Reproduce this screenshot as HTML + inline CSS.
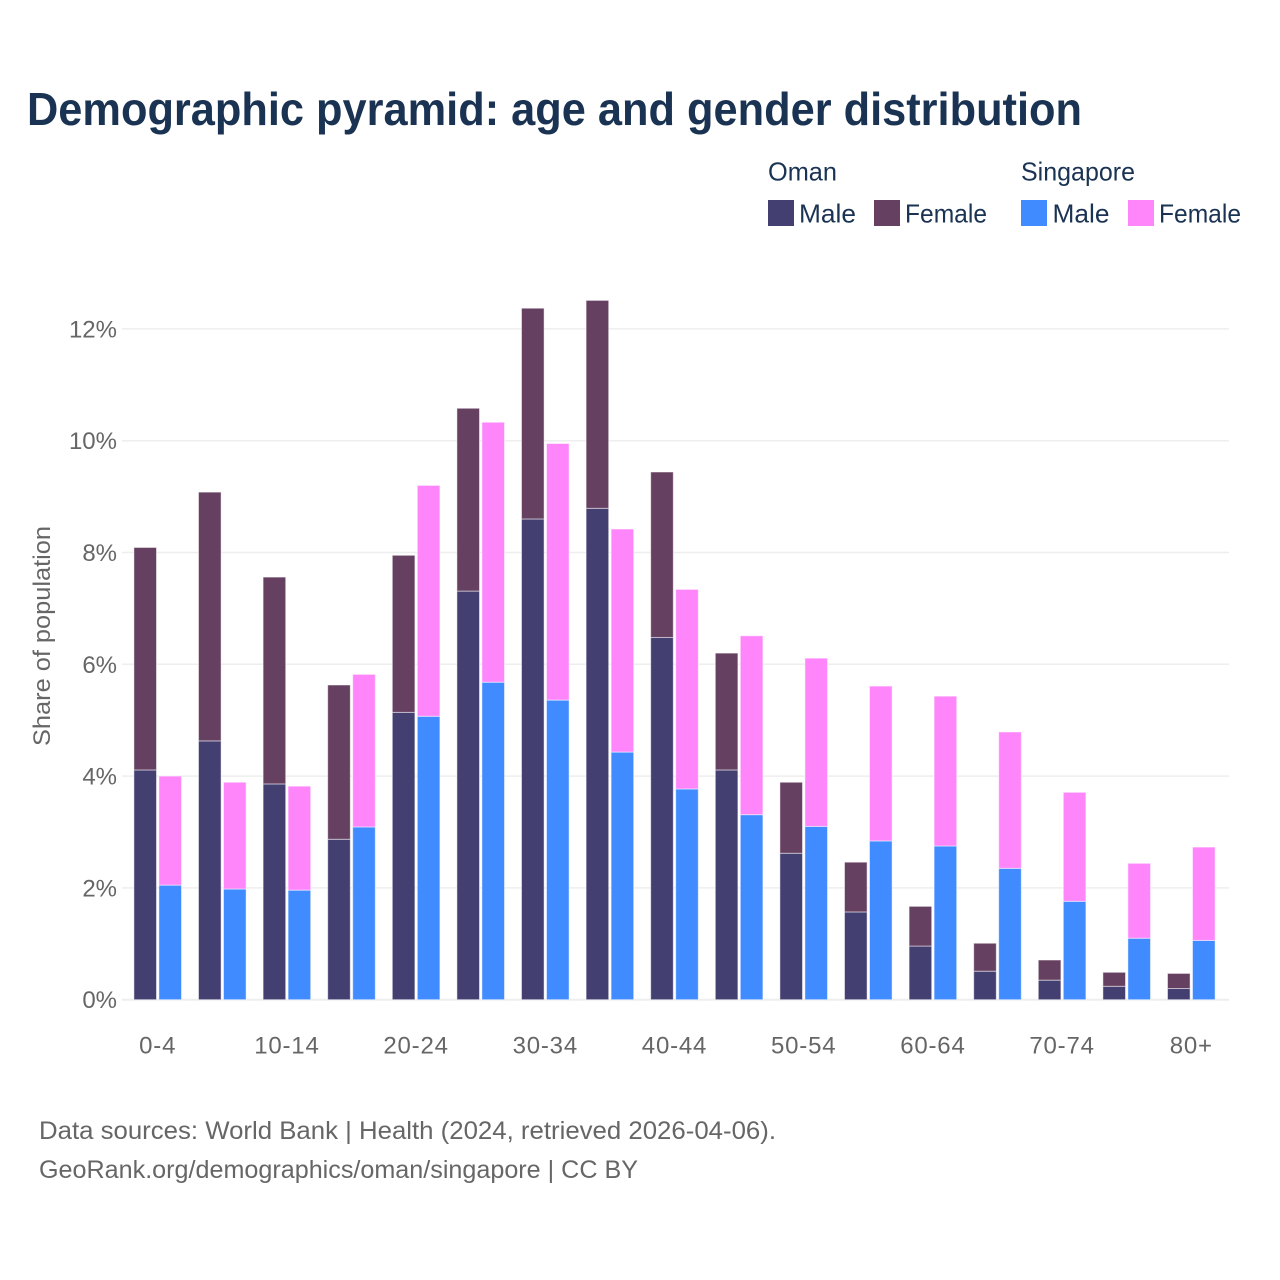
<!DOCTYPE html>
<html lang="en">
<head>
<meta charset="utf-8">
<title>Demographic pyramid</title>
<style>
html,body{margin:0;padding:0;background:#fff;width:1280px;height:1280px;overflow:hidden}
svg{display:block}
text{font-family:"Liberation Sans",sans-serif}
</style>
</head>
<body>
<svg id="chart" width="1280" height="1280" viewBox="0 0 1280 1280" xmlns="http://www.w3.org/2000/svg">
  <rect width="1280" height="1280" fill="#fff"/>
  <text x="27" y="125" font-size="46" font-weight="700" fill="#1a3353" textLength="1055" lengthAdjust="spacingAndGlyphs">Demographic pyramid: age and gender distribution</text>

  <g font-size="26" fill="#1a3353">
    <text x="768" y="180.5" textLength="69" lengthAdjust="spacingAndGlyphs">Oman</text>
    <text x="1021" y="180.5" textLength="114" lengthAdjust="spacingAndGlyphs">Singapore</text>
    <rect x="768" y="200" width="26" height="26" fill="#443f71"/>
    <text x="799" y="222.5" textLength="57" lengthAdjust="spacingAndGlyphs">Male</text>
    <rect x="874" y="200" width="26" height="26" fill="#664060"/>
    <text x="905" y="222.5" textLength="82" lengthAdjust="spacingAndGlyphs">Female</text>
    <rect x="1021" y="200" width="26" height="26" fill="#3f8bff"/>
    <text x="1052.5" y="222.5" textLength="57" lengthAdjust="spacingAndGlyphs">Male</text>
    <rect x="1128" y="200" width="26" height="26" fill="#ff85fb"/>
    <text x="1159" y="222.5" textLength="82" lengthAdjust="spacingAndGlyphs">Female</text>
  </g>

  <g id="grid"></g>
  <g id="yticks"></g>
  <g id="bars"></g>
  <g id="xticks"></g>

  <text transform="translate(50,636) rotate(-90)" text-anchor="middle" font-size="24" fill="#666" textLength="220" lengthAdjust="spacingAndGlyphs">Share of population</text>

  <text x="39" y="1139" font-size="25" fill="#666" textLength="737" lengthAdjust="spacingAndGlyphs">Data sources: World Bank | Health (2024, retrieved 2026-04-06).</text>
  <text x="39" y="1178" font-size="25" fill="#666" textLength="599" lengthAdjust="spacingAndGlyphs">GeoRank.org/demographics/oman/singapore | CC BY</text>
</svg>
<script>
const categories = ['0-4','5-9','10-14','15-19','20-24','25-29','30-34','35-39','40-44','45-49','50-54','55-59','60-64','65-69','70-74','75-79','80+'];
const omanMale = [4.11,4.63,3.86,2.87,5.14,7.31,8.60,8.79,6.48,4.11,2.62,1.57,0.96,0.51,0.35,0.24,0.20];
const omanFemale = [3.98,4.45,3.70,2.76,2.81,3.27,3.77,3.72,2.96,2.09,1.27,0.89,0.71,0.50,0.36,0.25,0.27];
const singaporeMale = [2.05,1.98,1.96,3.09,5.07,5.68,5.36,4.43,3.77,3.31,3.10,2.84,2.75,2.35,1.76,1.10,1.06];
const singaporeFemale = [1.95,1.91,1.86,2.73,4.13,4.65,4.59,3.99,3.57,3.20,3.01,2.77,2.68,2.44,1.95,1.34,1.67];
const yTickValues = [0,2,4,6,8,10,12];

const NS = 'http://www.w3.org/2000/svg';
function yScale(v){ return 999.7 - v * 55.9; }
function xScale(i){ return 157.7 + i * 64.6; }
function make(tag, attrs, parent){
  const el = document.createElementNS(NS, tag);
  for (const k in attrs) el.setAttribute(k, attrs[k]);
  parent.appendChild(el);
  return el;
}

const grid = document.getElementById('grid');
const yticks = document.getElementById('yticks');
yTickValues.forEach(function(v){
  const line = make('line', {x1:122, x2:1229, y1:yScale(v), y2:yScale(v), stroke:'#eeeeee', 'stroke-width': v === 0 ? 2 : 1.5}, grid);
  
  
  const t = make('text', {x:117, y:yScale(v) + 8.5, 'text-anchor':'end', 'font-size':24, fill:'#666'}, yticks);
  t.textContent = v + '%';
  
  
});

const bars = document.getElementById('bars');
const xticks = document.getElementById('xticks');
const barWidth = 22.6;
function drawBar(x, base, value, fill, name){
  const r = make('rect', {x:x, y:yScale(base + value), width:barWidth, height:yScale(base) - yScale(base + value), fill:fill, stroke:'#ffffff', 'stroke-opacity':0.5, 'stroke-width':1}, bars);
  
  
}
categories.forEach(function(c, i){
  const cx = xScale(i);
  const xa = cx - 23.8;
  const xb = cx + 1.2;
  drawBar(xa, 0, omanMale[i], '#443f71', 'bar-oman-male-' + c);
  drawBar(xa, omanMale[i], omanFemale[i], '#664060', 'bar-oman-female-' + c);
  drawBar(xb, 0, singaporeMale[i], '#3f8bff', 'bar-singapore-male-' + c);
  drawBar(xb, singaporeMale[i], singaporeFemale[i], '#ff85fb', 'bar-singapore-female-' + c);
  if (i % 2 === 0) {
    const t = make('text', {x:cx, y:1053.5, 'text-anchor':'middle', 'font-size':24, 'letter-spacing':0.8, fill:'#666'}, xticks);
    t.textContent = c;
    
    
  }
});
</script>
</body>
</html>
